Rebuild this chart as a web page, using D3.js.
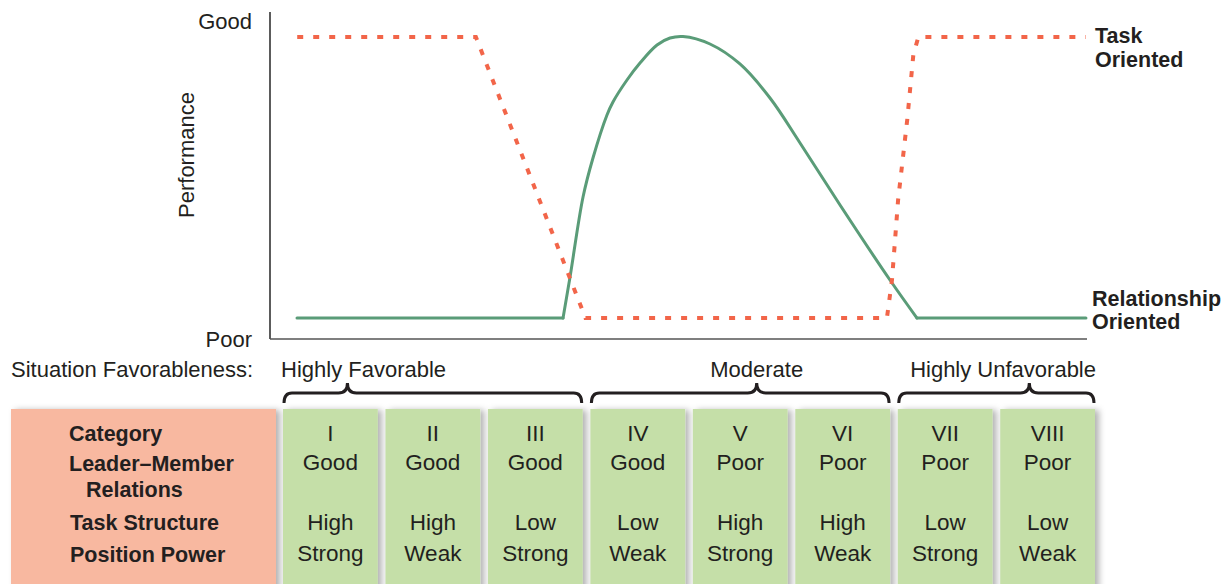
<!DOCTYPE html>
<html>
<head>
<meta charset="utf-8">
<script src="https://cdn.jsdelivr.net/npm/d3@7"></script>
<style>
  html, body { margin: 0; padding: 0; background: #fff; }
  svg { display: block; font-family: "Liberation Sans", Arial, Helvetica, sans-serif; }
</style>
</head>
<body>
<svg id="chart" width="1222" height="584"></svg>
<script>
// ---------- DATA ----------
const categories     = ["I", "II", "III", "IV", "V", "VI", "VII", "VIII"];
const leaderMember   = ["Good", "Good", "Good", "Good", "Poor", "Poor", "Poor", "Poor"];
const taskStructure  = ["High", "High", "Low", "Low", "High", "High", "Low", "Low"];
const positionPower  = ["Strong", "Weak", "Strong", "Weak", "Strong", "Weak", "Strong", "Weak"];
const rowLabels      = ["Category", "Leader\u2013Member", "Relations", "Task Structure", "Position Power"];
const groupLabels    = ["Highly Favorable", "Moderate", "Highly Unfavorable"];
const groupFirst     = [0, 3, 6];
const groupLast      = [2, 5, 7];
const yTickValues    = [0, 100];
const yTickLabels    = ["Poor", "Good"];

// Performance curves: x in situation units (0..8 across categories), y in 0 (Poor) .. 100 (Good)
const taskX = [0.14, 1.90, 2.98, 5.95, 6.00, 6.06, 6.15, 6.21, 6.26, 7.91];
const taskY = [95.0, 95.0, 6.6, 6.6, 18.6, 43.7, 68.9, 89.3, 95.0, 95.0];
const relX  = [0.138, 2.759, 2.828, 2.956, 3.054, 3.192, 3.251, 3.389, 3.517, 3.685, 3.813, 3.941,
               4.207, 4.502, 4.798, 5.094, 5.488, 5.980, 6.246, 7.911];
const relY  = [6.6, 6.6, 19.5, 44.65, 56.92, 70.44, 74.53, 81.45, 86.79, 92.45, 94.65, 95.13,
               92.77, 86.48, 75.79, 61.64, 42.14, 18.55, 6.6, 6.6];

// ---------- LAYOUT ----------
const svg = d3.select("#chart");
const FONT_COLOR = "#231f20";
const plotLeft = 270, plotBottom = 339, plotTop = 12, axisRight = 1087;
const catLeft = 283, catRight = 1095;

const x = d3.scaleLinear().domain([0, 8]).range([catLeft, catRight]);
const y = d3.scaleLinear().domain([0, 100]).range([plotBottom, 21]);
const band = d3.scaleBand().domain(categories).range([catLeft, catRight]).paddingInner(0.075).paddingOuter(0);

// shadow filter
const defs = svg.append("defs");
const f = defs.append("filter").attr("id", "shadow").attr("x", "-10%").attr("y", "-10%").attr("width", "130%").attr("height", "130%");
f.append("feDropShadow").attr("dx", 4).attr("dy", 1).attr("stdDeviation", 3)
  .attr("flood-color", "#000").attr("flood-opacity", 0.3);

// ---------- AXES ----------
svg.append("line")
  .attr("x1", plotLeft).attr("x2", plotLeft)
  .attr("y1", plotBottom).attr("y2", plotTop)
  .attr("stroke", "#333").attr("stroke-width", 1.6);
svg.append("line")
  .attr("x1", plotLeft).attr("x2", axisRight)
  .attr("y1", plotBottom).attr("y2", plotBottom)
  .attr("stroke", "#555").attr("stroke-width", 1.6);

const yAxis = d3.axisLeft(y).tickValues(yTickValues)
  .tickFormat((d, i) => yTickLabels[i]).tickSize(0).tickPadding(18);
const gy = svg.append("g").attr("transform", `translate(${plotLeft},0)`).call(yAxis);
gy.select(".domain").remove();
gy.selectAll("text").attr("font-size", 22).attr("fill", FONT_COLOR)
  .attr("font-family", "Liberation Sans, Arial, sans-serif");

svg.append("text")
  .attr("transform", "translate(194,155) rotate(-90)")
  .attr("text-anchor", "middle").attr("font-size", 22).attr("fill", FONT_COLOR)
  .text("Performance");

// ---------- LINES ----------
const relPts = relX.map((v, i) => [v, relY[i]]);
const n = relPts.length;
const flatLine = d3.line().x(d => x(d[0])).y(d => y(d[1])).curve(d3.curveLinear);
const smoothLine = d3.line().x(d => x(d[0])).y(d => y(d[1])).curve(d3.curveCatmullRom.alpha(0.5));
const relG = svg.append("g").attr("fill", "none").attr("stroke", "#5a9c78")
  .attr("stroke-width", 3).attr("stroke-linecap", "round").attr("stroke-linejoin", "round");
relG.append("path").datum(relPts.slice(0, 2)).attr("d", flatLine);
relG.append("path").datum(relPts.slice(1, n - 1)).attr("d", smoothLine);
relG.append("path").datum(relPts.slice(n - 2)).attr("d", flatLine);

const taskLine = d3.line().x(d => x(d[0])).y(d => y(d[1])).curve(d3.curveLinear);
svg.append("path")
  .datum(taskX.map((v, i) => [v, taskY[i]]))
  .attr("d", taskLine)
  .attr("fill", "none").attr("stroke", "#f26549").attr("stroke-width", 4)
  .attr("stroke-dasharray", "6,10");

// line labels
const lab = svg.append("g").attr("font-size", 21.5).attr("font-weight", "bold").attr("fill", FONT_COLOR);
lab.append("text").attr("x", 1095).attr("y", 43).text("Task");
lab.append("text").attr("x", 1095).attr("y", 67).text("Oriented");
lab.append("text").attr("x", 1092).attr("y", 306).text("Relationship");
lab.append("text").attr("x", 1092).attr("y", 329).text("Oriented");

// ---------- SITUATION FAVORABLENESS ----------
svg.append("text").attr("x", 11).attr("y", 377).attr("font-size", 22).attr("fill", FONT_COLOR)
  .text("Situation Favorableness:");

const peakFrac = [0.215, 0.555, 0.667];
const anchors = ["start", "middle", "end"];
groupLabels.forEach((g, i) => {
  const x0 = band(categories[groupFirst[i]]);
  const x1 = band(categories[groupLast[i]]) + band.bandwidth();
  const xm = x0 + (x1 - x0) * peakFrac[i];
  const yb = 403, yh = 393, yp = 383, r = 9;
  const p = d3.path();
  p.moveTo(x0 + 1, yb);
  p.quadraticCurveTo(x0 + 1, yh, x0 + r, yh);
  p.lineTo(xm - r, yh);
  p.quadraticCurveTo(xm, yh, xm, yp);
  p.quadraticCurveTo(xm, yh, xm + r, yh);
  p.lineTo(x1 - r, yh);
  p.quadraticCurveTo(x1 - 1, yh, x1 - 1, yb);
  svg.append("path").attr("d", p.toString()).attr("fill", "none")
    .attr("stroke", "#231f20").attr("stroke-width", 3);
  const tx = anchors[i] === "start" ? x0 - 2 : anchors[i] === "middle" ? xm : x1 + 1;
  svg.append("text").attr("x", tx).attr("y", 377).attr("text-anchor", anchors[i])
    .attr("font-size", 22).attr("fill", FONT_COLOR).text(g);
});

// ---------- TABLE ----------
const tableTop = 409;
svg.append("rect").attr("x", 11).attr("y", tableTop).attr("width", 265).attr("height", 584 - tableTop + 10)
  .attr("fill", "#f8b8a0").attr("filter", "url(#shadow)");

const rowBase = [441, 471, 497, 530, 562];
const rowX = [69, 69, 86, 70, 70];
const lg = svg.append("g").attr("font-size", 21.5).attr("font-weight", "bold").attr("fill", FONT_COLOR);
rowLabels.forEach((t, i) => lg.append("text").attr("x", rowX[i]).attr("y", rowBase[i]).text(t));

const cols = svg.append("g").selectAll("g").data(categories).join("g")
  .attr("transform", d => `translate(${band(d)},0)`);
cols.append("rect").attr("x", 0).attr("y", tableTop).attr("width", band.bandwidth())
  .attr("height", 584 - tableTop + 10).attr("fill", "#c5dfa8").attr("filter", "url(#shadow)");
const cx = band.bandwidth() / 2;
const colText = (sel, yb, fn) => sel.append("text").attr("x", cx).attr("y", yb)
  .attr("text-anchor", "middle").attr("font-size", 22.5).attr("fill", FONT_COLOR).text(fn);
colText(cols, 441, d => d);
colText(cols, 470, (d, i) => leaderMember[i]);
colText(cols, 530, (d, i) => taskStructure[i]);
colText(cols, 561, (d, i) => positionPower[i]);
</script>
</body>
</html>
